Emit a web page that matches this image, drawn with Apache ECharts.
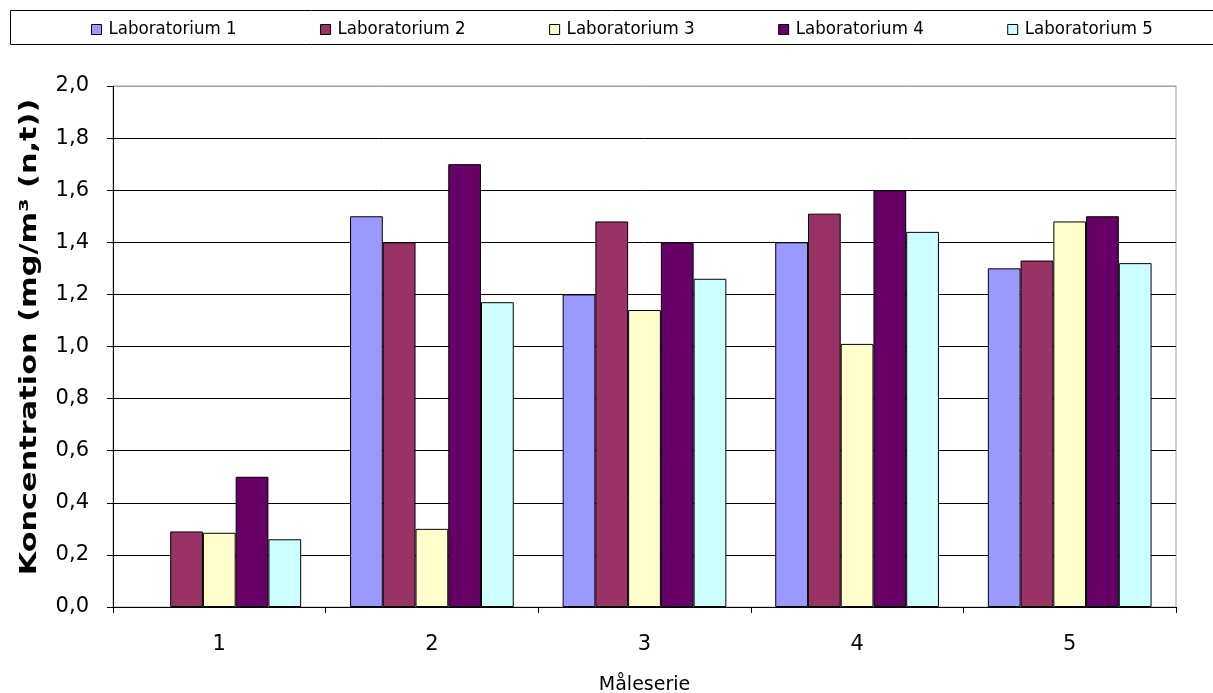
<!DOCTYPE html>
<html>
<head>
<meta charset="utf-8">
<title>Koncentration per måleserie</title>
<script src="https://cdn.jsdelivr.net/npm/echarts@6/dist/echarts.min.js"></script>
<style>
  html, body { margin: 0; padding: 0; background: #fff; }
  #chart { width: 1213px; height: 693px; }
</style>
</head>
<body>
<div id="chart"></div>
<script>
// Measurement series on the x axis
var categories = ['1', '2', '3', '4', '5'];

// Concentration (mg/m³ (n,t)) reported by each laboratory
var lab1 = [null, 1.50, 1.20, 1.40, 1.30];
var lab2 = [0.29, 1.40, 1.48, 1.51, 1.33];
var lab3 = [0.285, 0.30, 1.14, 1.01, 1.48];
var lab4 = [0.50, 1.70, 1.40, 1.60, 1.50];
var lab5 = [0.26, 1.17, 1.26, 1.44, 1.32];

var seriesNames = ['Laboratorium 1', 'Laboratorium 2', 'Laboratorium 3', 'Laboratorium 4', 'Laboratorium 5'];
var seriesColors = ['#9999FF', '#993366', '#FFFFCC', '#660066', '#CCFFFF'];
var seriesData = [lab1, lab2, lab3, lab4, lab5];

var yTitle = 'Koncentration (mg/m³ (n,t))';
var xTitle = 'Måleserie';

var axisFont = 'DejaVu Sans, Verdana, sans-serif';
var legendFont = '"DejaVu Sans Condensed", "DejaVu Sans", sans-serif';

// Grid lines: black, except the top one which coincides with the grey plot border
var splitColors = [];
for (var i = 0; i < 10; i++) splitColors.push('#000');
splitColors.push('#a0a0a0');

var chart = echarts.init(document.getElementById('chart'), null, { renderer: 'canvas' });

chart.setOption({
  animation: false,
  backgroundColor: '#fff',
  graphic: [
    // Legend frame, running off the right edge of the page
    {
      type: 'rect',
      silent: true,
      z: -1,
      shape: { x: 10.5, y: 10.5, width: 1300, height: 34 },
      style: { fill: '#fff', stroke: '#000', lineWidth: 1 }
    },
    // Vertical axis title, stretched along its length
    {
      type: 'text',
      silent: true,
      x: 30,
      y: 337,
      rotation: Math.PI / 2,
      scaleX: 1.32,
      style: {
        text: yTitle,
        font: 'bold 23px ' + axisFont,
        fill: '#000',
        align: 'center',
        verticalAlign: 'middle'
      }
    }
  ],
  legend: {
    left: 91,
    top: 20,
    padding: 0,
    itemWidth: 10,
    itemHeight: 10,
    itemGap: 83.5,
    icon: 'rect',
    itemStyle: { borderColor: '#000', borderWidth: 1 },
    textStyle: { fontFamily: legendFont, fontSize: 18.5, color: '#000', padding: [0, 0, 0, 2] },
    data: seriesNames
  },
  grid: {
    left: 113,
    right: 37,
    top: 86,
    bottom: 86,
    show: true,
    borderColor: '#a0a0a0',
    borderWidth: 1,
    containLabel: false,
    outerBoundsMode: 'none'
  },
  xAxis: {
    type: 'category',
    data: categories,
    name: xTitle,
    nameLocation: 'middle',
    nameGap: 69,
    nameTextStyle: { fontFamily: axisFont, fontSize: 19, color: '#000' },
    axisLine: { lineStyle: { color: '#000', width: 1 } },
    axisTick: { show: true, length: 6, lineStyle: { color: '#000' } },
    axisLabel: { fontFamily: axisFont, fontSize: 21, color: '#000', margin: 27 },
    splitLine: { show: false }
  },
  yAxis: {
    type: 'value',
    min: 0,
    max: 2,
    interval: 0.2,
    axisLine: { show: true, lineStyle: { color: '#000', width: 1 } },
    axisTick: { show: true, length: 6, lineStyle: { color: '#000' } },
    axisLabel: {
      fontFamily: axisFont, fontSize: 21, color: '#000', margin: 24,
      formatter: function (v) { return v.toFixed(1).replace('.', ','); }
    },
    splitLine: { show: true, lineStyle: { color: splitColors, width: 1 } }
  },
  series: seriesData.map(function (d, idx) {
    return {
      name: seriesNames[idx],
      type: 'bar',
      data: d,
      barGap: '0%',
      barCategoryGap: '23%',
      itemStyle: { color: seriesColors[idx], borderColor: '#000', borderWidth: 1 }
    };
  })
});
</script>
</body>
</html>
